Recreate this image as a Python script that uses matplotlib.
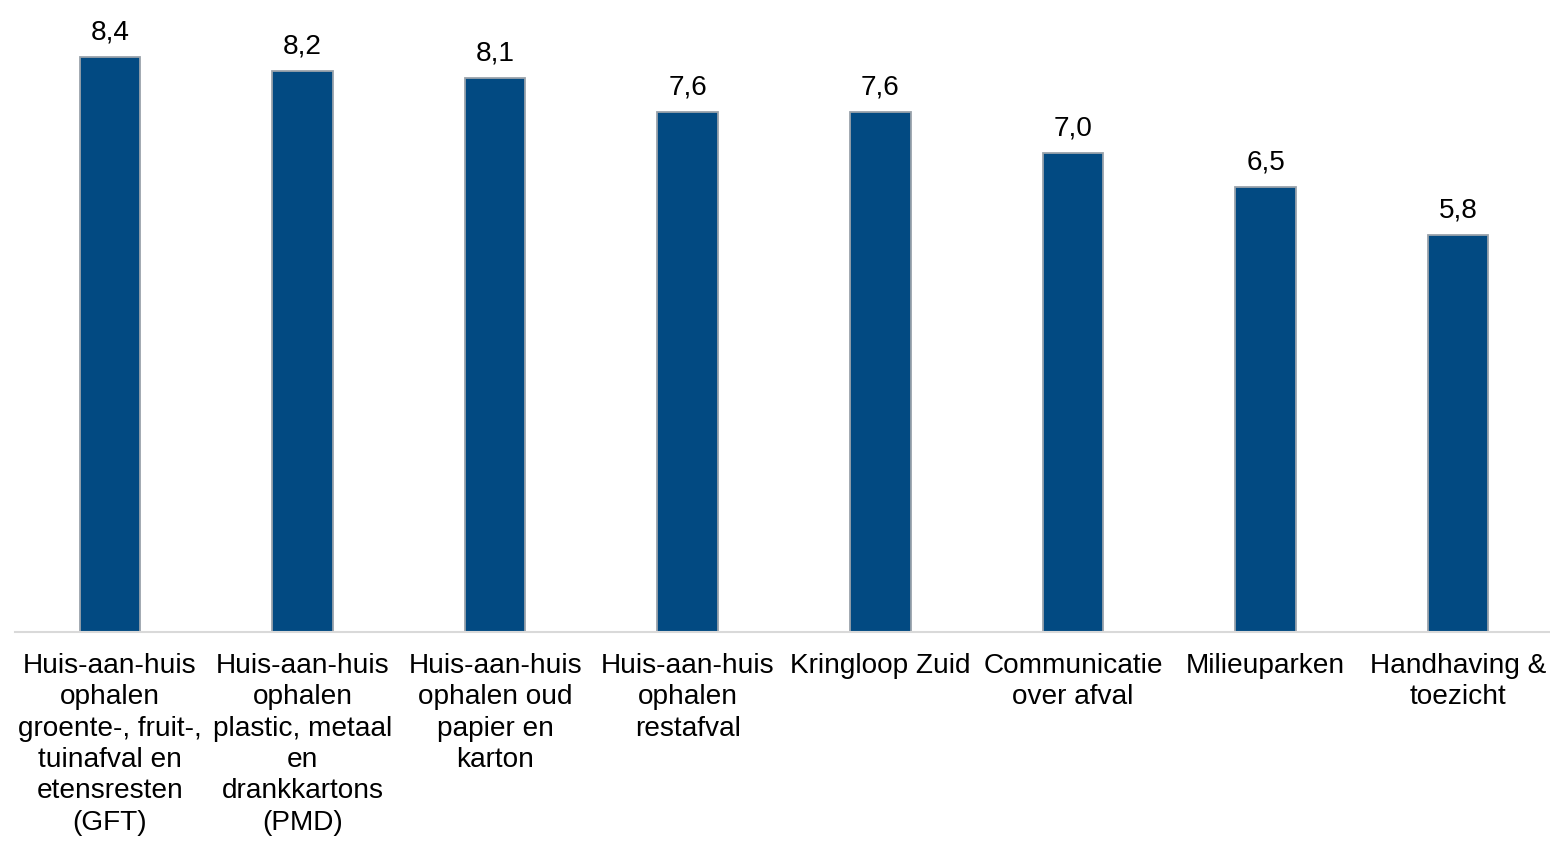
import matplotlib
matplotlib.use("Agg")
import matplotlib.pyplot as plt

plt.rcParams['font.family'] = ['Liberation Sans', 'DejaVu Sans']

categories = [
    "Huis-aan-huis\nophalen\ngroente-, fruit-,\ntuinafval en\netensresten\n(GFT)",
    "Huis-aan-huis\nophalen\nplastic, metaal\nen\ndrankkartons\n(PMD)",
    "Huis-aan-huis\nophalen oud\npapier en\nkarton",
    "Huis-aan-huis\nophalen\nrestafval",
    "Kringloop Zuid",
    "Communicatie\nover afval",
    "Milieuparken",
    "Handhaving &\ntoezicht",
]
scores = [8.4, 8.2, 8.1, 7.6, 7.6, 7.0, 6.5, 5.8]

bar_color = "#024a82"
edge_color = "#9aa3ab"
text_size = 20.2

fig = plt.figure(figsize=(15.5, 8.42), dpi=100)
ax = fig.add_axes([15 / 1550, 0.2494, 1 - 15 / 1550, 1 - 0.2494])

x = list(range(len(scores)))
bars = ax.bar(x, scores, width=0.315, color=bar_color, edgecolor=edge_color, linewidth=1.3, zorder=2)

for rect, v in zip(bars, scores):
    ax.annotate(f"{v:.1f}".replace(".", ","),
                xy=(rect.get_x() + rect.get_width() / 2, rect.get_height()),
                xytext=(0, 8.5), textcoords="offset points",
                ha="center", va="bottom", fontsize=text_size, color="#000000")

ax.set_xlim(-0.493, 7.477)
ax.set_ylim(0, 9.24)
ax.set_xticks(x)
ax.set_xticklabels(categories, fontsize=text_size, linespacing=1.27, color="#000000")
ax.tick_params(axis="x", length=0, pad=15)
ax.set_yticks([])

for side in ("top", "right", "left"):
    ax.spines[side].set_visible(False)
ax.spines["bottom"].set_color("#d9d9d9")
ax.spines["bottom"].set_linewidth(1.5)
ax.patch.set_alpha(0)

fig.savefig("out.png", dpi=100, facecolor="white")
